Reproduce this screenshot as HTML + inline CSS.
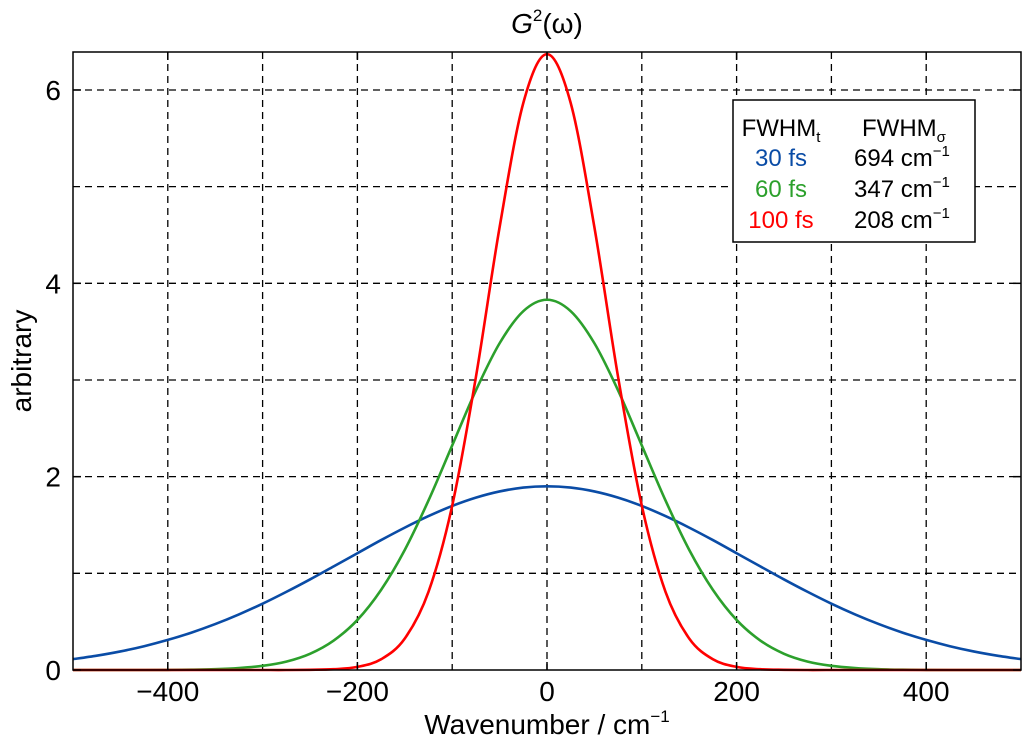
<!DOCTYPE html>
<html><head><meta charset="utf-8"><style>
body{margin:0;background:#fff;}
svg text{font-family:"Liberation Sans",Arial,sans-serif;}
</style></head><body>
<svg id="chart" width="1024" height="740" viewBox="0 0 1024 740" xmlns="http://www.w3.org/2000/svg"></svg>
<script>
const xCats=[-500,-475,-450,-425,-400,-375,-350,-325,-300,-275,-250,-225,-200,-175,-150,-125,-100,-75,-50,-25,0,25,50,75,100,125,150,175,200,225,250,275,300,325,350,375,400,425,450,475,500];
const blueVals=[0.112,0.148,0.192,0.246,0.311,0.387,0.475,0.575,0.686,0.808,0.937,1.072,1.208,1.344,1.473,1.592,1.697,1.783,1.847,1.887,1.9,1.887,1.847,1.783,1.697,1.592,1.473,1.344,1.208,1.072,0.937,0.808,0.686,0.575,0.475,0.387,0.311,0.246,0.192,0.148,0.112];
const greenVals=[0,0,0,0,0.001,0.003,0.008,0.02,0.043,0.087,0.168,0.305,0.518,0.829,1.243,1.754,2.323,2.892,3.38,3.712,3.83,3.712,3.38,2.892,2.323,1.754,1.243,0.829,0.518,0.305,0.168,0.087,0.043,0.02,0.008,0.003,0.001,0,0,0,0];
const redVals=[0,0,0,0,0,0,0,0,0,0,0.002,0.008,0.032,0.111,0.326,0.809,1.7,3.03,4.58,5.865,6.37,5.865,4.58,3.03,1.7,0.809,0.326,0.111,0.032,0.008,0.002,0,0,0,0,0,0,0,0,0,0];
const xTickLabels=[-400,-200,0,200,400];
const yTickLabels=[0,2,4,6];
const xGrid=[-400,-300,-200,-100,0,100,200,300,400];
const yGrid=[1,2,3,4,5,6];

const L=73,R=1021,T=52,B=670;
const X=v=>L+(v+500)/1000*(R-L);
const Y=v=>B-v*96.67;
const svg=document.getElementById('chart');
const NS='http://www.w3.org/2000/svg';
function mk(tag,attrs,parent){const e=document.createElementNS(NS,tag);for(const k in attrs)e.setAttribute(k,attrs[k]);(parent||svg).appendChild(e);return e;}

const grid=mk('g',{});


xGrid.forEach(v=>{const l=mk('line',{x1:X(v),x2:X(v),y1:T,y2:B,stroke:'#000','stroke-width':1.3,'stroke-dasharray':'7,5'},grid);

});
yGrid.forEach(v=>{const l=mk('line',{x1:L,x2:R,y1:Y(v),y2:Y(v),stroke:'#000','stroke-width':1.3,'stroke-dasharray':'7,5'},grid);

});

function path(vals,color,name){
  const pts=xCats.map((x,i)=>[X(x),Y(vals[i])]);
  let d='M'+pts[0][0]+','+pts[0][1];
  for(let i=0;i<pts.length-1;i++){
    const p0=pts[Math.max(0,i-1)],p1=pts[i],p2=pts[i+1],p3=pts[Math.min(pts.length-1,i+2)];
    const c1=[p1[0]+(p2[0]-p0[0])/6,p1[1]+(p2[1]-p0[1])/6];
    const c2=[p2[0]-(p3[0]-p1[0])/6,p2[1]-(p3[1]-p1[1])/6];
    d+=' C'+c1[0]+','+c1[1]+' '+c2[0]+','+c2[1]+' '+p2[0]+','+p2[1];
  }
  const p=mk('path',{d:d,fill:'none',stroke:color,'stroke-width':2.6});
  
  
}
path(blueVals,'#0a4ca6','line-30fs');
path(greenVals,'#2ca02c','line-60fs');
path(redVals,'#ff0000','line-100fs');

const frame=mk('rect',{x:L,y:T,width:R-L,height:B-T,fill:'none',stroke:'#000','stroke-width':1.5});



xTickLabels.forEach(v=>{
  mk('line',{x1:X(v),x2:X(v),y1:B,y2:B-8,stroke:'#000','stroke-width':1.5});
  mk('line',{x1:X(v),x2:X(v),y1:T,y2:T+8,stroke:'#000','stroke-width':1.5});
  const t=mk('text',{x:X(v),y:B+31,'font-size':28,'text-anchor':'middle'});
  t.textContent=v<0?'\u2212'+(-v):String(v);
  
  
});
yTickLabels.forEach(v=>{
  mk('line',{x1:L,x2:L+8,y1:Y(v),y2:Y(v),stroke:'#000','stroke-width':1.5});
  mk('line',{x1:R,x2:R-8,y1:Y(v),y2:Y(v),stroke:'#000','stroke-width':1.5});
  const t=mk('text',{x:L-12,y:Y(v)+10,'font-size':28,'text-anchor':'end'});
  t.textContent=String(v);
  
  
});
</script>
<svg style="position:absolute;left:0;top:0" width="1024" height="740">
<text x="547" y="33" font-size="28" text-anchor="middle"><tspan font-style="italic">G</tspan><tspan font-size="17" dy="-12">2</tspan><tspan dy="12">(ω)</tspan></text>
<text x="547" y="734" font-size="28" text-anchor="middle">Wavenumber / cm<tspan font-size="17" dy="-12">−1</tspan></text>
<text transform="translate(31,361) rotate(-90)" font-size="28" text-anchor="middle">arbitrary</text>
<g>
<rect x="733" y="100" width="242" height="142" fill="#fff" stroke="#000" stroke-width="1.5"/>
<text x="781" y="136" font-size="24" text-anchor="middle">FWHM<tspan font-size="15" dy="6">t</tspan></text>
<text x="862" y="136" font-size="24">FWHM<tspan font-size="15" dy="6">σ</tspan></text>
<text x="781" y="166" font-size="24" text-anchor="middle" fill="#0a4ca6">30 fs</text>
<text x="781" y="197" font-size="24" text-anchor="middle" fill="#2ca02c">60 fs</text>
<text x="781" y="228" font-size="24" text-anchor="middle" fill="#ff0000">100 fs</text>
<text x="854" y="166" font-size="24">694 cm<tspan font-size="15" dy="-10">−1</tspan></text>
<text x="854" y="197" font-size="24">347 cm<tspan font-size="15" dy="-10">−1</tspan></text>
<text x="854" y="228" font-size="24">208 cm<tspan font-size="15" dy="-10">−1</tspan></text>
</g>
</svg>
</body></html>
